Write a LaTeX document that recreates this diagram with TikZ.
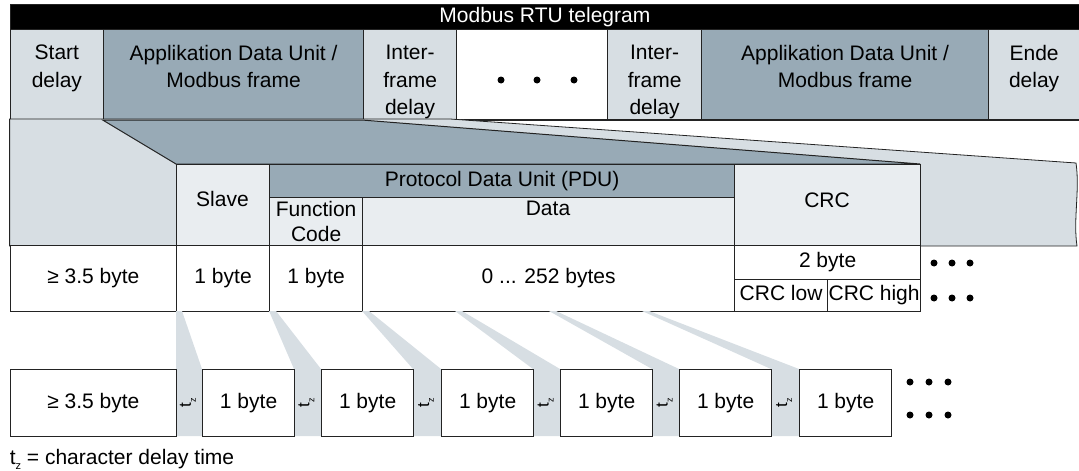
\documentclass[tikz,border=0pt]{standalone}
\usepackage{fontspec}
\setmainfont{Liberation Sans}
\usetikzlibrary{positioning}

\definecolor{lightgr}{RGB}{215,222,227}
\definecolor{darkgr}{RGB}{152,170,182}
\definecolor{palegr}{RGB}{233,237,240}
\definecolor{rule}{RGB}{35,35,35}

% t with a low z, as in the legend
\newcommand{\tzmark}{t\raisebox{-5pt}{\fontsize{9}{9}\selectfont z}}
\newcommand{\tzlegend}{t\raisebox{-5pt}{\fontsize{11}{11}\selectfont z}}

\begin{document}
\begin{tikzpicture}[
    x=1pt, y=-1pt,
    every node/.style={font=\fontsize{21}{27.5}\selectfont},
    cell/.style={draw=rule, line width=1.2pt, inner sep=0pt, anchor=north west},
    sz/.style 2 args={minimum width=#1pt, minimum height=#2pt},
    one/.style={text height=15pt, text depth=4.5pt},
    lbl/.style={inner sep=0pt, align=center},
    tz/.style={rotate=90, inner sep=0pt, font=\fontsize{17}{17}\selectfont},
]
\useasboundingbox (0,0) rectangle (1079,471);

% telegram
\node[cell, fill=black, text=white, one, sz={1069.4}{25}] (tel) at (9.6,4) {Modbus RTU telegram};
\node[cell, fill=lightgr, sz={93.4}{90}] (sd)   at (9.6,29) {};
\node[cell, fill=darkgr,  sz={260}{90}]  (adu1) at (103,29) {};
\node[cell, fill=lightgr, sz={93}{90}]   (ifd1) at (363,29) {};
\node[cell, fill=white,   sz={151}{90}]  (more) at (456,29) {};
\node[cell, fill=lightgr, sz={94}{90}]   (ifd2) at (607,29) {};
\node[cell, fill=darkgr,  sz={287}{90}]  (adu2) at (701,29) {};
\node[cell, fill=lightgr, sz={91}{90}]   (ed)   at (988,29) {};

\node[lbl, below=16pt of sd.north]   (sdtxt)   {Start\\delay};
\node[lbl, below=16pt of adu1.north] (adu1txt) {Applikation Data Unit /\\Modbus frame};
\node[lbl, below=16pt of ifd1.north] (ifd1txt) {Inter-\\frame\\delay};
\node[lbl, below=16pt of ifd2.north] (ifd2txt) {Inter-\\frame\\delay};
\node[lbl, below=16pt of adu2.north] (adu2txt) {Applikation Data Unit /\\Modbus frame};
\node[lbl, below=16pt of ed.north]   (edtxt)   {Ende\\delay};
\fill (501,80) circle (3.5pt) (537,80) circle (3.5pt) (574,80) circle (3.5pt);

\draw[rule, line width=2pt] (sd.south west) -- (ed.south east);

% zoomed frame
\filldraw[fill=lightgr, draw=rule, line width=0.8pt] (9.6,119) -- (450,119) -- (1076,163)
    .. controls (1080,190) and (1073,220) .. (1077,246) -- (9.6,246) -- cycle;
\filldraw[fill=darkgr, draw=rule, line width=1pt] (adu1.south west) -- (adu1.south east)
    -- (920,164) -- (176,164) -- cycle;

\node[cell, fill=palegr, sz={93}{81}]  (slave) at (176,164) {};
\node[cell, fill=darkgr, one, sz={465}{33}] (pdu) at (269,164) {Protocol Data Unit (PDU)};
\node[cell, fill=palegr, sz={93}{48}, align=center, font=\fontsize{21}{24.5}\selectfont] (fc) at (269,197) {Function\\Code};
\node[cell, fill=palegr, sz={372}{48}] (data) at (362,197) {};
\node[cell, fill=palegr, sz={186}{81}] (crc)  at (734,164) {};
\node[lbl] (slavetxt) at (222.5,199) {Slave};
\node[lbl] (datatxt)  at (548,208)   {Data};
\node[lbl] (crctxt)   at (827,200)   {CRC};

\node[cell, fill=white, one, sz={166.4}{66}] (idle) at (9.6,245) {≥ 3.5 byte};
\node[cell, fill=white, one, sz={93}{66}]  (slb)  at (176,245) {1 byte};
\node[cell, fill=white, one, sz={93}{66}]  (fcb)  at (269,245) {1 byte};
\node[cell, fill=white, one, sz={372}{66}] (datb) at (362,245) {0 ... 252 bytes};
\node[cell, fill=white, one, sz={186}{34}] (crcb) at (734,245) {2 byte};
\node[cell, fill=white, one, sz={93}{32}]  (crcl) at (734,279) {CRC low};
\node[cell, fill=white, one, sz={93}{32}]  (crch) at (827,279) {CRC high};
\fill (934,263) circle (3.5pt) (952,263) circle (3.5pt) (970,263) circle (3.5pt);
\fill (934,298) circle (3.5pt) (952,298) circle (3.5pt) (970,298) circle (3.5pt);

% single characters
\fill[lightgr] (176,311) -- (182,311) -- (202,369) -- (202,436) -- (176,436) -- cycle;
\fill[lightgr] (269,311) -- (276,311) -- (321,369) -- (321,436) -- (294,436) -- (294,369) -- cycle;
\fill[lightgr] (362,311) -- (369,311) -- (441,369) -- (441,436) -- (413,436) -- (413,369) -- cycle;
\fill[lightgr] (455,311) -- (462,311) -- (560,369) -- (560,436) -- (533,436) -- (533,369) -- cycle;
\fill[lightgr] (549,311) -- (556,311) -- (679,369) -- (679,436) -- (652,436) -- (652,369) -- cycle;
\fill[lightgr] (642,311) -- (649,311) -- (799,369) -- (799,436) -- (771,436) -- (771,369) -- cycle;

\node[cell, fill=white, one, sz={166.4}{67}] (idleb) at (9.6,369) {≥ 3.5 byte};
\node[cell, fill=white, one, sz={92}{67}] (b1) at (202,369) {1 byte};
\node[cell, fill=white, one, sz={92}{67}] (b2) at (321,369) {1 byte};
\node[cell, fill=white, one, sz={92}{67}] (b3) at (441,369) {1 byte};
\node[cell, fill=white, one, sz={92}{67}] (b4) at (560,369) {1 byte};
\node[cell, fill=white, one, sz={92}{67}] (b5) at (679,369) {1 byte};
\node[cell, fill=white, one, sz={92}{67}] (b6) at (799,369) {1 byte};

\node[tz] (tz1) at (188,403)   {\tzmark};
\node[tz] (tz2) at (306.5,403) {\tzmark};
\node[tz] (tz3) at (426,403)   {\tzmark};
\node[tz] (tz4) at (545.5,403) {\tzmark};
\node[tz] (tz5) at (664.5,403) {\tzmark};
\node[tz] (tz6) at (784,403)   {\tzmark};
\fill (910,382) circle (3.5pt) (929,382) circle (3.5pt) (948,382) circle (3.5pt);
\fill (910,415) circle (3.5pt) (929,415) circle (3.5pt) (948,415) circle (3.5pt);

\node[anchor=base west, inner sep=0pt] (legend) at (9.6,464) {\tzlegend{} = character delay time};

\end{tikzpicture}
\end{document}
